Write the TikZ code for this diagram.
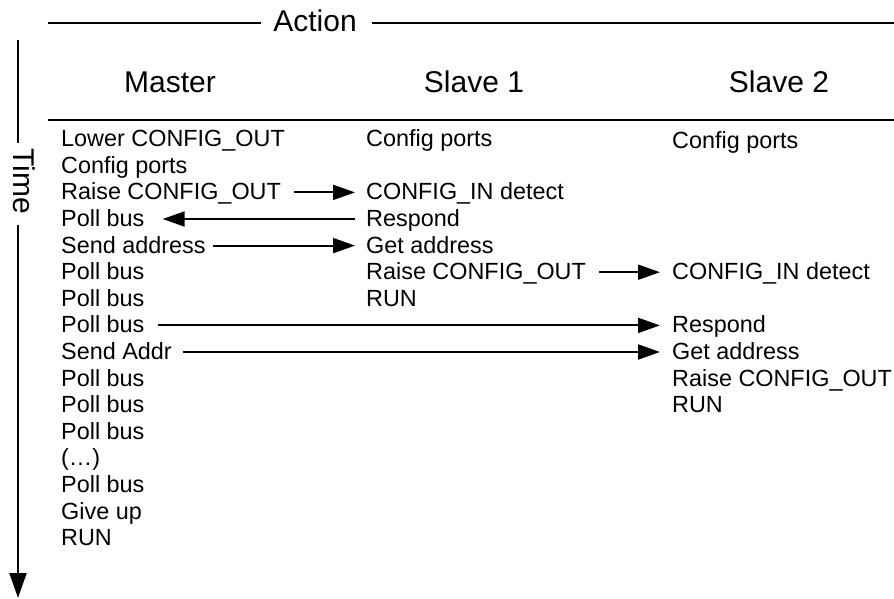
\documentclass[tikz,border=0pt]{standalone}
\usepackage{fontspec}
\setmainfont{Liberation Sans}
\usetikzlibrary{arrows.meta}
\begin{document}
\begin{tikzpicture}[x=1pt,y=-1pt,
  txt/.style={inner sep=0pt,anchor=base west,font=\fontsize{23.4}{26}\selectfont},
  hdr/.style={inner sep=0pt,anchor=base,font=\fontsize{30}{34}\selectfont},
  rule/.style={line width=2pt},
  flow/.style={line width=2pt,-{Triangle[length=22pt,width=15pt]}},
  timearrow/.style={line width=2pt,-{Triangle[length=25pt,width=17pt]}}]
\useasboundingbox (0,0) rectangle (894,598);
% headers
\node[hdr] (action) at (315,31.7) {Action};
\coordinate (al) at (48,23);
\coordinate (ar) at (894,23);
\draw[rule] (al) -- ([xshift=-12pt]action.west |- al);
\draw[rule] ([xshift=15pt]action.east |- ar) -- (ar);
\node[hdr] (hm) at (170,92) {Master};
\node[hdr] (hs1) at (474,92) {Slave 1};
\node[hdr] (hs2) at (779,92) {Slave 2};
\coordinate (hl) at (48,120);
\coordinate (hr) at (894,120);
\draw[rule] (hl) -- (hr);
% time axis
\node[inner sep=0pt,anchor=base west,rotate=-90,font=\fontsize{30}{34}\selectfont] (time) at (13,148) {Time};
\coordinate (tt) at (18,40);
\coordinate (tb) at (18,598);
\draw[rule] (tt) -- ([yshift=5pt]time.west -| tt);
\draw[timearrow] ([yshift=-11pt]time.east -| tt) -- (tb);
% master column
\node[txt] (m0) at (61,146.7) {Lower CONFIG\_OUT};
\node[txt] (m1) at (61,173.3) {Config ports};
\node[txt] (m2) at (61,199.9) {Raise CONFIG\_OUT};
\node[txt] (m3) at (61,226.5) {Poll bus};
\node[txt] (m4) at (61,253.1) {Send address};
\node[txt] (m5) at (61,279.7) {Poll bus};
\node[txt] (m6) at (61,306.3) {Poll bus};
\node[txt] (m7) at (61,332.9) {Poll bus};
\node[txt] (m8) at (61,359.5) {Send Addr};
\node[txt] (m9) at (61,386.1) {Poll bus};
\node[txt] (m10) at (61,412.7) {Poll bus};
\node[txt] (m11) at (61,439.3) {Poll bus};
\node[txt] (m12) at (61,465.9) {(…)};
\node[txt] (m13) at (61,492.5) {Poll bus};
\node[txt] (m14) at (61,519.1) {Give up};
\node[txt] (m15) at (61,545.7) {RUN};
% slave 1 column
\node[txt] (a0) at (366,146.7) {Config ports};
\node[txt] (a2) at (366,199.9) {CONFIG\_IN detect};
\node[txt] (a3) at (366,226.5) {Respond};
\node[txt] (a4) at (366,253.1) {Get address};
\node[txt] (a5) at (366,279.7) {Raise CONFIG\_OUT};
\node[txt] (a6) at (366,306.3) {RUN};
% slave 2 column
\node[txt] (b0) at (672,148) {Config ports};
\node[txt] (b5) at (672,279.7) {CONFIG\_IN detect};
\node[txt] (b7) at (672,332.9) {Respond};
\node[txt] (b8) at (672,359.5) {Get address};
\node[txt] (b9) at (672,386.1) {Raise CONFIG\_OUT};
\node[txt] (b10) at (672,412.7) {RUN};
% arrows
\draw[flow] ([shift={(13pt,7.5pt)}]m2.base east) -- ([shift={(-11pt,7.5pt)}]a2.base west);
\draw[flow] ([shift={(-11pt,7.5pt)}]a3.base west) -- ([shift={(18pt,7.5pt)}]m3.base east);
\draw[flow] ([shift={(7pt,7.5pt)}]m4.base east) -- ([shift={(-11pt,7.5pt)}]a4.base west);
\draw[flow] ([shift={(13pt,7.5pt)}]a5.base east) -- ([shift={(-12pt,7.5pt)}]b5.base west);
\draw[flow] ([shift={(13pt,7.5pt)}]m7.base east) -- ([shift={(-12pt,7.5pt)}]b7.base west);
\draw[flow] ([shift={(11pt,7.5pt)}]m8.base east) -- ([shift={(-12pt,7.5pt)}]b8.base west);
\end{tikzpicture}
\end{document}
